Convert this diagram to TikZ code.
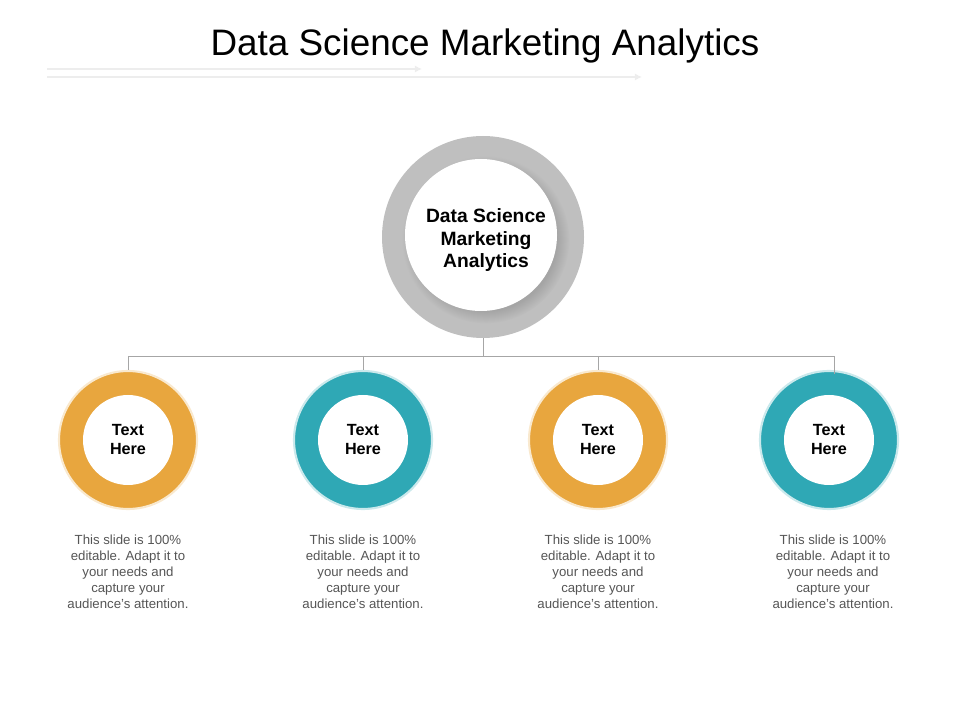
\documentclass[tikz,border=0pt]{standalone}
\usepackage{fontspec}
\setmainfont{Liberation Sans}
\usepackage{tikz}
\usetikzlibrary{arrows,calc,arrows.meta,positioning,shadows}

\definecolor{ringgray}{HTML}{BFBFBF}
\definecolor{ringorange}{HTML}{E8A63E}
\definecolor{ringteal}{HTML}{2FA8B5}
\definecolor{linegray}{HTML}{A6A6A6}
\definecolor{textgray}{HTML}{555555}
\definecolor{deco}{HTML}{EDEDED}

\tikzset{
  ring/.style={circle, inner sep=0pt, minimum size=#1*0.025cm},
  hole/.style={circle, fill=white, inner sep=0pt, align=center,
    font=\bfseries\fontsize{11.5}{13.5}\selectfont, minimum size=#1*0.025cm},
  note/.style={align=center, text=textgray, font=\fontsize{9.4}{11.4}\selectfont},
  link/.style={draw=linegray, line width=0.6pt}
}

\begin{document}
\begin{tikzpicture}[x=0.025cm, y=-0.025cm, >=latex]
        \useasboundingbox (0,0) rectangle (960,720);
        \newcommand{\rowy}{440}

        % title and the two thin arrows under it
        \node[font=\fontsize{26.2}{30}\selectfont] (title) at (485,46) {Data Science Marketing Analytics};
        \coordinate (D1a) at (47,69);
        \coordinate (D1b) at (422,69);
        \coordinate (D2a) at (47,77);
        \coordinate (D2b) at (642,77);
        \draw[deco, line width=0.8pt, -{Latex[length=5pt,width=5pt]}] (D1a) -- (D1b);
        \draw[deco, line width=0.8pt, -{Latex[length=5pt,width=5pt]}] (D2a) -- (D2b);

        % centre circle
        \node[ring=202, fill=ringgray] (R0) at (483,237) {};
        \node[hole=152, circular drop shadow={shadow xshift=3pt, shadow yshift=-3pt, opacity=0.4}] (H0) at (481,235) {};
        \node[align=center, font=\bfseries\fontsize{13.7}{16}\selectfont] (L0) at (486,240.5)
              {Data Science\\Marketing\\Analytics};

        % four circles
        \node[ring=138, fill=ringorange, draw=ringorange!25, line width=1.5pt] (R1) at (128,\rowy) {};
        \node[ring=138, fill=ringteal, draw=ringteal!25, line width=1.5pt] (R2) at (363,\rowy) {};
        \node[ring=138, fill=ringorange, draw=ringorange!25, line width=1.5pt] (R3) at (598,\rowy) {};
        \node[ring=138, fill=ringteal, draw=ringteal!25, line width=1.5pt] (R4) at (829,\rowy) {};
        \node[hole=90] (H1) at (R1) {Text\\Here};
        \node[hole=90] (H2) at (R2) {Text\\Here};
        \node[hole=90] (H3) at (R3) {Text\\Here};
        \node[hole=90] (H4) at (R4) {Text\\Here};

        % tree lines
        \coordinate (J0) at (483,356);
        \coordinate (J1) at (128,356);
        \coordinate (J2) at (363,356);
        \coordinate (J3) at (598,356);
        \coordinate (J4) at (834,356);
        \draw[link] (R0.south) -- (J0);
        \draw[link] (J1) -- (J4);
        \draw[link] (J1) -- (J1 |- R1.north);
        \draw[link] (J2) -- (J2 |- R2.north);
        \draw[link] (J3) -- (J3 |- R3.north);
        \draw[link] (J4) -- ($(J4 |- R4.north)+(0,4)$);

        % notes
        \foreach \i/\nx in {1/128, 2/363, 3/598, 4/833} {
          \node[note] (N\i) at (\nx,572) {This slide is 100\%\\editable. Adapt it to\\your needs and\\capture your\\audience's attention.};
        }
    \end{tikzpicture}
\end{document}
